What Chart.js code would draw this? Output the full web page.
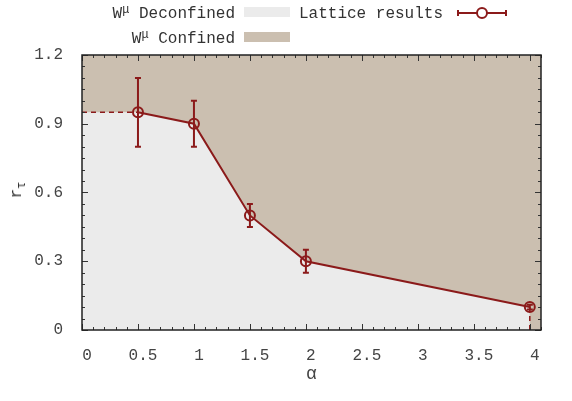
<!DOCTYPE html>
<html>
<head>
<meta charset="utf-8">
<script src="https://cdn.jsdelivr.net/npm/chart.js@4.4.1/dist/chart.umd.min.js"></script>
<style>
  body { margin: 0; background: #fff; font-family: 'Liberation Mono', monospace; color: #333; }
  #wrap { position: relative; width: 572px; height: 401px; }
  .key { position: absolute; font-size: 16px; line-height: 16px; white-space: pre; }
  .key sup { font-size: 12px; line-height: 0; vertical-align: 5px; }
  .swatch { position: absolute; width: 46px; height: 10px; }
  #ytitle { position: absolute; left: 17px; top: 190px; font-size: 16px; line-height: 16px;
            transform: translate(-50%, -50%) rotate(-90deg); white-space: pre; }
  #ytitle sub { font-size: 12px; line-height: 0; vertical-align: -4px; }
</style>
</head>
<body>
<div id="wrap">
  <canvas id="chart" width="572" height="401"></canvas>
  <div class="key" style="right:337px; top:6px;">W<sup>μ</sup> Deconfined</div>
  <div class="swatch" style="left:244px; top:7px; background:#ebebeb;"></div>
  <div class="key" style="left:299px; top:6px;">Lattice results</div>
  <div class="key" style="right:337px; top:31px;">W<sup>μ</sup> Confined</div>
  <div class="swatch" style="left:244px; top:32px; background:#cbbfb0;"></div>
  <div id="ytitle">r<sub>τ</sub></div>
</div>
<script>
// Lattice data
const alpha = [0.5, 1, 1.5, 2, 4];
const rTau = [0.95, 0.9, 0.5, 0.3, 0.1];
const rTauErr = [0.15, 0.1, 0.05, 0.05, 0.01];

// Axes
const xMax = 4.1;
const yMax = 1.2;
const xTicks = [0, 0.5, 1, 1.5, 2, 2.5, 3, 3.5, 4];
const xTickLabels = ['0', '0.5', '1', '1.5', '2', '2.5', '3', '3.5', '4'];
const yTicks = [0, 0.3, 0.6, 0.9, 1.2];
const yTickLabels = ['0', '0.3', '0.6', '0.9', '1.2'];
const xMinorStep = 0.1;
const yMinorStep = 0.05;

const RED = '#8b1a1a';
const LATTICE = 0;

const pts = alpha.map((a, i) => ({ x: a, y: rTau[i] }));
const last = alpha.length - 1;
// boundary between the two phases
const boundary = [{ x: 0, y: rTau[0] }].concat(pts, [{ x: alpha[last], y: 0 }]);

// error bars, inward ticks, frame and legend sample
const decorPlugin = {
    id: 'decor',
    beforeDatasetDraw(chart, args) {
        if (args.index !== LATTICE) return;
        const ctx = chart.ctx, xs = chart.scales.x, ys = chart.scales.y;
        ctx.save();
        ctx.strokeStyle = RED;
        ctx.lineWidth = 2;
        alpha.forEach((a, i) => {
            const px = xs.getPixelForValue(a);
            const lo = ys.getPixelForValue(rTau[i] - rTauErr[i]);
            const hi = ys.getPixelForValue(rTau[i] + rTauErr[i]);
            ctx.beginPath();
            ctx.moveTo(px, lo); ctx.lineTo(px, hi);
            ctx.moveTo(px - 3, lo); ctx.lineTo(px + 3, lo);
            ctx.moveTo(px - 3, hi); ctx.lineTo(px + 3, hi);
            ctx.stroke();
        });
        ctx.restore();
    },
    afterDraw(chart) {
        const ctx = chart.ctx, a = chart.chartArea;
        const xs = chart.scales.x, ys = chart.scales.y;
        ctx.save();
        ctx.strokeStyle = '#333';
        ctx.lineWidth = 1;
        ctx.beginPath();
        for (let i = 0; i * xMinorStep <= xMax + 1e-9; i++) {
            const v = i * xMinorStep;
            const major = xTicks.some(t => Math.abs(t - v) < 1e-6);
            const len = major ? 6 : 3;
            const px = Math.round(xs.getPixelForValue(v)) + 0.5;
            ctx.moveTo(px, a.bottom); ctx.lineTo(px, a.bottom - len);
            ctx.moveTo(px, a.top); ctx.lineTo(px, a.top + len);
        }
        for (let i = 0; i * yMinorStep <= yMax + 1e-9; i++) {
            const v = i * yMinorStep;
            const major = yTicks.some(t => Math.abs(t - v) < 1e-6);
            const len = major ? 6 : 3;
            const py = Math.round(ys.getPixelForValue(v)) + 0.5;
            ctx.moveTo(a.left, py); ctx.lineTo(a.left + len, py);
            ctx.moveTo(a.right, py); ctx.lineTo(a.right - len, py);
        }
        ctx.stroke();

        ctx.strokeStyle = '#222';
        ctx.lineWidth = 1.5;
        ctx.strokeRect(a.left, a.top, a.right - a.left, a.bottom - a.top);

        // legend sample for the lattice results
        ctx.strokeStyle = RED;
        ctx.lineWidth = 2;
        ctx.beginPath();
        ctx.moveTo(458, 13); ctx.lineTo(506, 13);
        ctx.moveTo(458, 10); ctx.lineTo(458, 16);
        ctx.moveTo(506, 10); ctx.lineTo(506, 16);
        ctx.stroke();
        ctx.fillStyle = '#fff';
        ctx.beginPath();
        ctx.arc(482, 13, 5, 0, Math.PI * 2);
        ctx.fill();
        ctx.stroke();
        ctx.restore();
    }
};

Chart.defaults.font.family = "'Liberation Mono', monospace";
Chart.defaults.font.size = 16;
Chart.defaults.color = '#444';

new Chart(document.getElementById('chart'), {
    type: 'line',
    data: {
        datasets: [
            {
                label: 'Lattice results',
                data: pts,
                borderColor: RED,
                borderWidth: 2,
                pointRadius: 5,
                pointBorderWidth: 2,
                pointBorderColor: RED,
                pointBackgroundColor: 'rgba(0,0,0,0)',
                fill: false,
                tension: 0,
                order: 1
            },
            {
                label: 'guide left',
                data: [{ x: 0, y: rTau[0] }, { x: alpha[0], y: rTau[0] }],
                borderColor: RED,
                borderWidth: 1.5,
                borderDash: [5, 4],
                pointRadius: 0,
                fill: false,
                order: 2
            },
            {
                label: 'guide right',
                data: [{ x: alpha[last], y: rTau[last] }, { x: alpha[last], y: 0 }],
                borderColor: RED,
                borderWidth: 1.5,
                borderDash: [5, 4],
                pointRadius: 0,
                fill: false,
                order: 2
            },
            {
                label: 'W\u03bc Deconfined',
                data: boundary,
                borderWidth: 0,
                borderColor: 'rgba(0,0,0,0)',
                backgroundColor: '#ebebeb',
                pointRadius: 0,
                fill: 'origin',
                tension: 0,
                order: 3
            },
            {
                label: 'W\u03bc Confined',
                data: [{ x: 0, y: yMax }, { x: xMax, y: yMax }],
                borderWidth: 0,
                borderColor: 'rgba(0,0,0,0)',
                backgroundColor: '#cbbfb0',
                pointRadius: 0,
                fill: 'origin',
                order: 4
            }
        ]
    },
    options: {
        responsive: false,
        animation: false,
        layout: { padding: { left: 0, top: 55, right: 31, bottom: 0 } },
        plugins: {
            legend: { display: false },
            tooltip: { enabled: false }
        },
        scales: {
            x: {
                type: 'linear',
                min: 0,
                max: xMax,
                grid: { display: false },
                border: { display: false },
                afterBuildTicks: s => { s.ticks = xTicks.map(v => ({ value: v })); },
                afterFit: s => { s.height = 71; },
                ticks: {
                    padding: 8,
                    labelOffset: 5,
                    maxRotation: 0,
                    autoSkip: false,
                    callback: (v, i) => xTickLabels[i]
                },
                title: { display: true, text: 'α', font: { size: 18 }, padding: { top: 0, bottom: 16 } }
            },
            y: {
                type: 'linear',
                min: 0,
                max: yMax,
                grid: { display: false },
                border: { display: false },
                afterBuildTicks: s => { s.ticks = yTicks.map(v => ({ value: v })); },
                afterFit: s => { s.width = 82; },
                ticks: {
                    padding: 11,
                    autoSkip: false,
                    callback: (v, i) => yTickLabels[i]
                }
            }
        }
    },
    plugins: [decorPlugin]
});
</script>
</body>
</html>
